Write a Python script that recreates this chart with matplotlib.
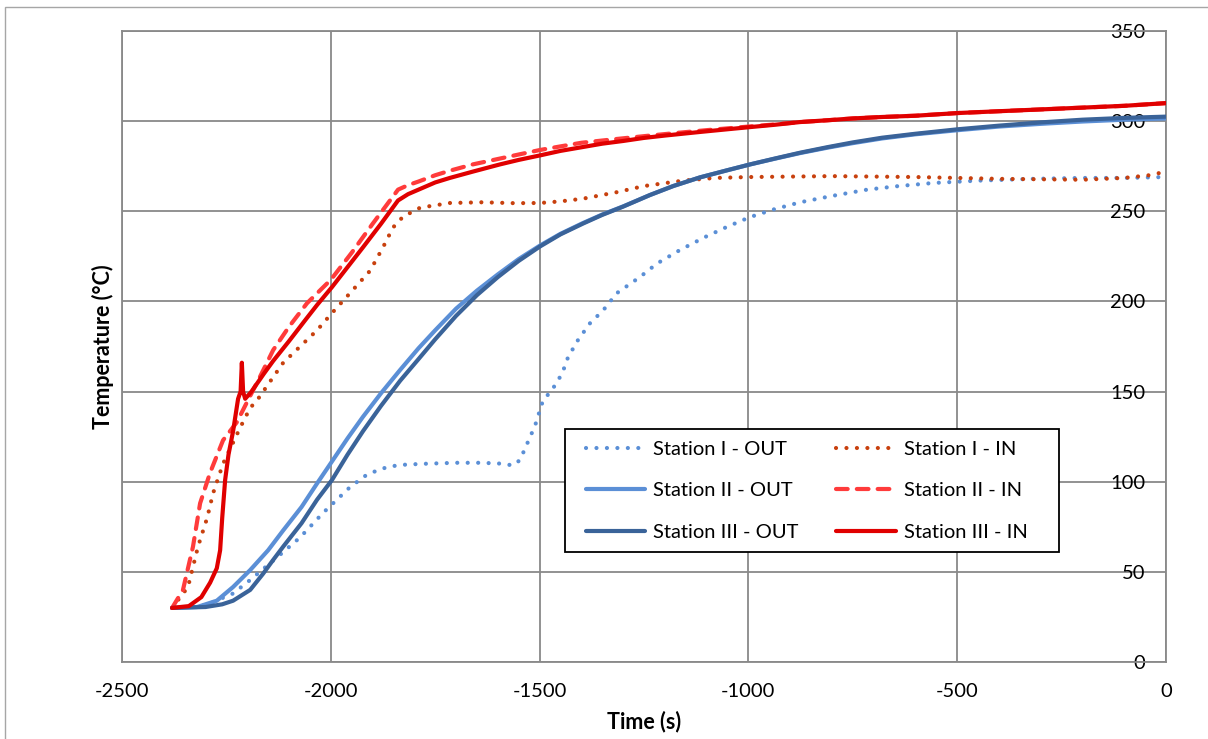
import matplotlib
matplotlib.use("Agg")
import matplotlib.pyplot as plt
from matplotlib.patches import Rectangle

# ---------------- data ----------------
s1_out_x = [-2380, -2300, -2234, -2193, -2129, -2074, -2019, -1954, -1913, -1880, -1858, -1820,
            -1770, -1700, -1640, -1588, -1564, -1547, -1530, -1511, -1492, -1470, -1446, -1432,
            -1408, -1379, -1348, -1315, -1260, -1219, -1164, -1104, -1050, -996, -940, -876,
            -800, -716, -640, -557, -450, -318, -200, -100, 0]
s1_out_y = [30, 31.5, 38, 45.5, 58, 69, 82.6, 97, 104, 107, 108.5, 109.5,
            110, 110.5, 110.5, 110, 109, 112, 121, 131, 145, 151, 160, 169,
            178.6, 188, 195, 204.6, 213.5, 221, 228.5, 235.7, 241.5, 246.8, 251, 255,
            258.5, 262, 264, 265.7, 267, 268, 268.5, 268.5, 269]

s1_in_x = [-2380, -2342, -2318, -2296, -2282, -2258, -2217, -2193, -2177, -2114, -2033, -1997,
           -1954, -1906, -1875, -1851, -1827, -1786, -1715, -1636, -1560, -1499, -1450, -1396,
           -1315, -1250, -1157, -1080, -996, -800, -600, -400, -200, -100, -40, 0]
s1_in_y = [30, 41.6, 64, 80, 93.5, 110, 130, 141, 145, 166, 184, 193.6,
           204.6, 217, 230, 241, 247, 252, 254.6, 255, 254.5, 254.6, 255.5, 257,
           260.6, 264, 267, 268.5, 269, 269.5, 269, 268, 267.5, 268.5, 270, 272]

s2_out_x = [-2380, -2320, -2273, -2234, -2193, -2150, -2114, -2070, -2033, -1995, -1960, -1923,
            -1880, -1834, -1790, -1750, -1700, -1650, -1600, -1550, -1499, -1450, -1396, -1350,
            -1300, -1236, -1180, -1116, -1050, -996, -936, -876, -810, -750, -680, -600,
            -498, -400, -300, -200, -100, 0]
s2_out_y = [30, 30.5, 34, 41.6, 51, 62, 73, 86, 99, 112, 124, 136,
            149, 162, 174, 184, 196, 206, 215, 223.5, 231, 237.5, 243.5, 248.2,
            252.7, 259, 264, 268.8, 272.8, 276, 279.2, 282.3, 285.3, 287.8, 290.4, 292.7,
            295, 297, 298.5, 299.8, 300.8, 301.5]

s2_in_x = [-2380, -2354, -2330, -2313, -2289, -2258, -2225, -2201, -2170, -2138, -2100, -2057,
           -2000, -1950, -1900, -1839, -1815, -1790, -1750, -1715, -1660, -1600, -1550, -1499,
           -1450, -1400, -1320, -1236, -1170, -1100, -1000, -936, -876, -810, -750, -680,
           -600, -498, -400, -300, -200, -100, 0]
s2_in_y = [30, 40, 64, 88, 105, 123, 133, 144, 158, 173, 186, 199,
           212, 227, 243, 262, 264.5, 266.5, 270, 272.5, 276, 279, 281.5, 284,
           286, 288, 290, 292, 293.5, 295, 297, 298.2, 299.5, 300.5, 301.5, 302.3,
           303, 304.5, 305.5, 306.5, 307.5, 308.5, 310]

s3_out_x = [-2380, -2300, -2260, -2234, -2193, -2162, -2140, -2114, -2070, -2033, -1997, -1960,
            -1923, -1880, -1834, -1790, -1750, -1700, -1650, -1600, -1550, -1499, -1450, -1396,
            -1350, -1300, -1236, -1180, -1116, -1050, -996, -936, -876, -810, -750, -680,
            -600, -498, -400, -300, -200, -100, 0]
s3_out_y = [30, 30.5, 32, 34, 40, 49, 56, 64, 77, 90, 101, 115,
            128, 142, 156, 168, 179, 192, 203.5, 213.5, 222.5, 230.5, 237.2, 243.2,
            248, 252.6, 259, 264, 268.8, 272.8, 276, 279.3, 282.5, 285.6, 288.2, 290.8,
            293, 295.5, 297.5, 299.3, 300.8, 301.8, 302.5]

s3_in_x = [-2380, -2340, -2310, -2289, -2273, -2265, -2260, -2253, -2245, -2234, -2222, -2216,
           -2213, -2210, -2205, -2190, -2160, -2138, -2100, -2060, -2033, -1997, -1960, -1923,
           -1880, -1839, -1815, -1790, -1750, -1715, -1660, -1595, -1550, -1499, -1450, -1400,
           -1350, -1300, -1250, -1200, -1116, -1050, -996, -936, -876, -810, -750, -680,
           -600, -498, -400, -300, -200, -100, 0]
s3_in_y = [30, 31, 36, 44, 52, 62, 80, 101, 115, 128, 146, 150,
           166, 150, 146, 150, 160, 167, 178, 190, 198, 208, 219, 230,
           243, 256, 259.5, 262, 266, 268.5, 272, 276, 278.5, 281, 283.5, 285.5,
           287.5, 289, 290.7, 292, 294, 295.5, 296.7, 298, 299.5, 300.5, 301.5, 302.3,
           303, 304.5, 305.5, 306.5, 307.5, 308.5, 310]

x_ticks = [-2500, -2000, -1500, -1000, -500, 0]
y_ticks = [0, 50, 100, 150, 200, 250, 300, 350]

# ---------------- style ----------------
plt.rcParams['font.family'] = ['Lato', 'DejaVu Sans']

W, H = 1208, 739
fig = plt.figure(figsize=(W / 100, H / 100), dpi=100)
fig.patch.set_facecolor('white')

# outer chart border
fig.add_artist(Rectangle((5 / W, -0.01), 1.05, 1 - 7 / H + 0.01, transform=fig.transFigure,
                         fill=False, edgecolor='#a6a6a6', linewidth=1.0))

L, R, T, B = 122, 1166, 31, 662
ax = fig.add_axes([L / W, 1 - B / H, (R - L) / W, (B - T) / H])

grid_c = '#898989'
c_lblue = '#5B8FD6'
c_dblue = '#3A6399'
c_orange = '#C8400E'
c_lred = '#FF3B3B'
c_red = '#E00000'

lw = 3.0
dot = (0, (0.01, 2.5))

h1o, = ax.plot(s1_out_x, s1_out_y, color=c_lblue, lw=lw, linestyle=dot,
               dash_capstyle='round', label='Station I - OUT', zorder=3)
h1i, = ax.plot(s1_in_x, s1_in_y, color=c_orange, lw=lw, linestyle=dot,
               dash_capstyle='round', label='Station I - IN', zorder=3)
h2o, = ax.plot(s2_out_x, s2_out_y, color=c_lblue, lw=lw, solid_capstyle='round',
               solid_joinstyle='round', label='Station II - OUT', zorder=3)
h2i, = ax.plot(s2_in_x, s2_in_y, color=c_lred, lw=lw, linestyle=(0, (2.8, 2.2)),
               dash_capstyle='round', label='Station II - IN', zorder=3)
h3o, = ax.plot(s3_out_x, s3_out_y, color=c_dblue, lw=lw, solid_capstyle='round',
               solid_joinstyle='round', label='Station III - OUT', zorder=3)
h3i, = ax.plot(s3_in_x, s3_in_y, color=c_red, lw=lw, solid_capstyle='round',
               solid_joinstyle='round', label='Station III - IN', zorder=3)

ax.set_xlim(-2500, 0)
ax.set_ylim(0, 350)
ax.set_xticks(x_ticks)
ax.set_yticks(y_ticks)
ax.set_xticklabels([str(v) for v in x_ticks])
ax.set_yticklabels([str(v) for v in y_ticks])
ax.grid(True, color=grid_c, linewidth=1.3, zorder=0)
ax.set_axisbelow(True)
for sp in ax.spines.values():
    sp.set_color(grid_c)
    sp.set_linewidth(1.3)

ax.tick_params(axis='x', length=0, pad=15, labelsize=14.5, colors='black')
ax.tick_params(axis='y', length=0, left=False, right=False, labelleft=False,
               labelright=True, pad=-15, labelsize=14.5, colors='black')
for lbl in ax.get_yticklabels():
    lbl.set_horizontalalignment('right')

ax.set_xlabel('Time (s)', fontsize=15.5, fontweight='bold', labelpad=8)
ax.set_ylabel('Temperature (°C)', fontsize=15.5, fontweight='bold', labelpad=6)

# legend frame drawn as a rectangle, contents placed inside it
def ax_x(px):
    return (px - L) / (R - L)

def ax_y(py):
    return (B - py) / (B - T)

ax.add_patch(Rectangle((ax_x(565), ax_y(552)), ax_x(1059) - ax_x(565), ax_y(429) - ax_y(552),
                       transform=ax.transAxes, facecolor='white', edgecolor='black',
                       linewidth=1.3, zorder=4))
leg = ax.legend(handles=[h1o, h2o, h3o, h1i, h2i, h3i], ncol=2,
                loc='upper left', bbox_to_anchor=(ax_x(586), ax_y(441)),
                borderaxespad=0, borderpad=0, fontsize=14.5, frameon=False,
                handlelength=2.95, handletextpad=0.4, columnspacing=1.85,
                labelspacing=1.2)
leg.set_zorder(5)

fig.savefig('out.png', dpi=100, facecolor='white')
